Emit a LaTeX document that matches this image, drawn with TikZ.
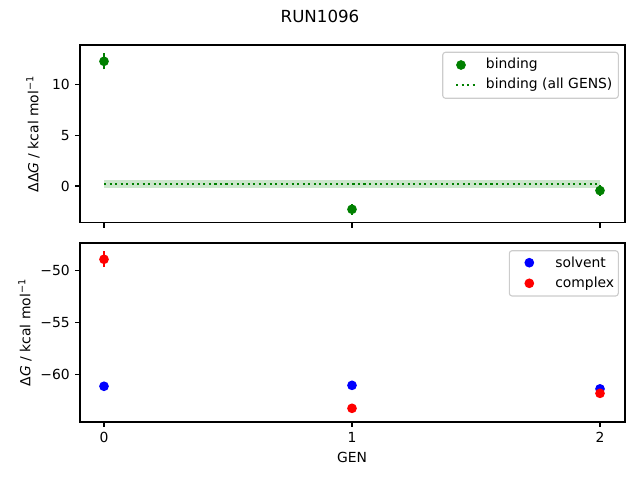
\documentclass[tikz,border=0pt]{standalone}
\usepackage{fontspec}
\setmainfont{DejaVu Sans}
\definecolor{mplgreen}{HTML}{008000}
\definecolor{mplred}{HTML}{FF0000}
\definecolor{mplblue}{HTML}{0000FF}
\definecolor{legendedge}{HTML}{CCCCCC}
\tikzset{
  frame/.style={line width=0.8pt},
  tick/.style={line width=0.8pt},
  errbar/.style={line width=1.5pt},
  legendbox/.style={draw=legendedge,fill=white,fill opacity=0.8,line width=0.8pt,rounded corners=2pt},
  allgens/.style={mplgreen,line width=1.5pt,dash pattern=on 1.5pt off 2.475pt}
}
\begin{document}
\begin{tikzpicture}[x=0.72pt,y=-0.72pt]
\useasboundingbox (0,0) rectangle (640,480);
\node (title) at (320,16) {\fontsize{12}{14}\selectfont RUN1096};

% top axes
\begin{scope}[shift={(104,186)},x=178.56pt,y=7.3224pt]
\fill[mplgreen,opacity=0.2] (0,0.6) rectangle (2,-0.16);
\draw[allgens] (0,0.2) -- (2,0.2);
\foreach \x/\y/\e in {0/12.26/0.8,1/-2.29/0.55,2/-0.45/0.5}
{
\draw[errbar,mplgreen] (\x,\y-\e) -- (\x,\y+\e);
\fill[mplgreen] (\x,\y) circle (3.5pt);
}
\end{scope}
\draw[frame] (80,45) rectangle (625,222.7);
\foreach \px in {104,352,600}
{
\draw[tick] (\px,222.7) -- ++(0,4.86);
}
\foreach \py/\lab in {84.3/10,135.3/5,186/0}
{
\draw[tick] (80,\py) -- ++(-4.86,0);
\node[anchor=east,inner sep=0pt] at (70,\py) {\lab};
}
\node[rotate=90] (ddg) at (33,134) {ΔΔ\textit{G} / kcal mol\textsuperscript{−1}};

% top legend
\draw[legendbox] (442.7,52.3) rectangle (618.3,98.3);
\fill[mplgreen] (461,65) circle (3.5pt);
\node[anchor=west,inner sep=0pt] (bind) at (485.7,65) {binding};
\draw[allgens] (456,85) -- (475,85);
\node[anchor=west,inner sep=0pt] (bindall) at (485.7,85) {binding (all GENS)};

% bottom axes
\begin{scope}[shift={(104,-249.7)},x=178.56pt,y=7.488pt]
\foreach \x/\y in {0/-61.15,1/-61.06,2/-61.4}
{
\fill[mplblue] (\x,\y) circle (3.5pt);
}
\foreach \x/\y/\e in {0/-48.94/0.75,1/-63.27/0.3,2/-61.83/0.2}
{
\draw[errbar,mplred] (\x,\y-\e) -- (\x,\y+\e);
\fill[mplred] (\x,\y) circle (3.5pt);
}
\end{scope}
\draw[frame] (80,243) rectangle (625,422);
\foreach \px/\lab in {104/0,352/1,600/2}
{
\draw[tick] (\px,422) -- ++(0,4.86);
\node[anchor=north,inner sep=0pt] at (\px,431.7) {\lab};
}
\foreach \py/\lab in {270.3/−50,322.3/−55,374.3/−60}
{
\draw[tick] (80,\py) -- ++(-4.86,0);
\node[anchor=east,inner sep=0pt] at (70,\py) {\lab};
}
\node[rotate=90] (dg) at (25,332.5) {Δ\textit{G} / kcal mol\textsuperscript{−1}};
\node (gen) at (352,457) {GEN};

% bottom legend
\draw[legendbox] (509.3,250.7) rectangle (618.3,296);
\fill[mplblue] (529.3,262.7) circle (3.5pt);
\node[anchor=west,inner sep=0pt] (solv) at (555,262.7) {solvent};
\fill[mplred] (529.3,283.3) circle (3.5pt);
\node[anchor=west,inner sep=0pt] (cplx) at (555,283.3) {complex};
\end{tikzpicture}
\end{document}
